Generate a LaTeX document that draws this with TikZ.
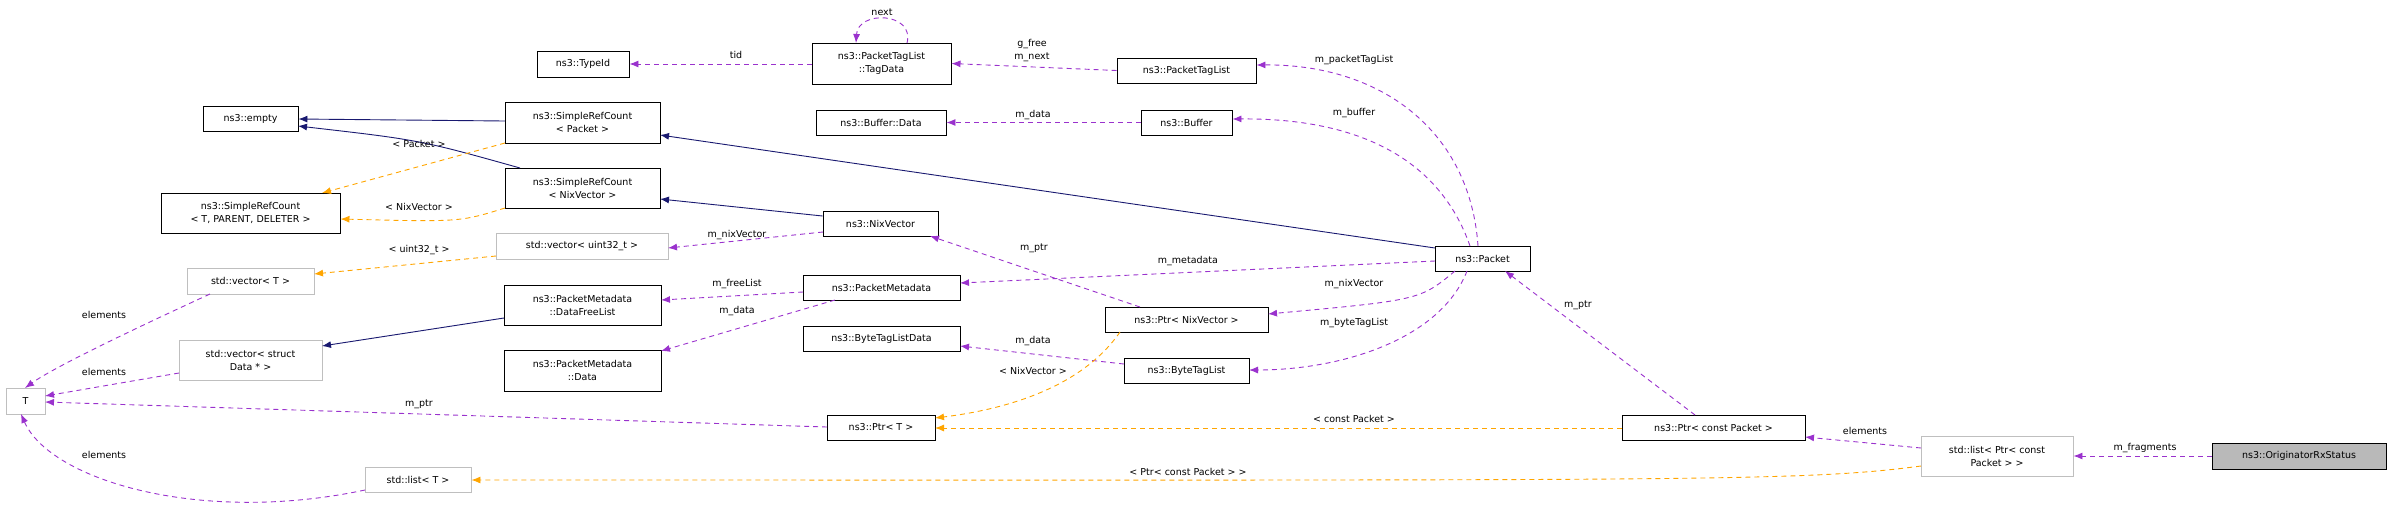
\documentclass[tikz,border=0pt]{standalone}
\usepackage{fontspec}
\setmainfont{DejaVu Sans}
\usetikzlibrary{arrows.meta}
\definecolor{pur}{HTML}{9A32CD}
\definecolor{org}{HTML}{FFA500}
\definecolor{nav}{HTML}{191970}
\definecolor{gb}{HTML}{BFBFBF}
\begin{document}
\begin{tikzpicture}[x=1pt,y=-1pt,
  every node/.style={font=\fontsize{9.5}{13}\selectfont},
  box/.style={draw=black,fill=white,line width=0.9pt,align=center,inner sep=0pt},
  gbox/.style={box,draw=gb},
  tip/.style={-{Latex[length=9pt,width=7pt]}},
  pe/.style={tip,draw=pur,dashed,line width=0.9pt,dash pattern=on 5pt off 4pt},
  oe/.style={tip,draw=org,dashed,line width=0.9pt,dash pattern=on 5pt off 4pt},
  ne/.style={tip,draw=nav,line width=0.9pt},
  lbl/.style={inner sep=0pt}]
\useasboundingbox (0,0) rectangle (2389,507);
\newcommand{\bx}[7]{\node[#1,minimum width=#4-#3,minimum height=#6-#5] (#2) at ({(#3+#4)/2},{(#5+#6)/2}) {#7};}
\bx{box}{typeid}{537}{629}{51}{77}{ns3::TypeId}
\bx{box}{empty}{203}{298}{106}{131}{ns3::empty}
\bx{box}{srcp}{505}{660}{102}{143}{ns3::SimpleRefCount\\< Packet >}
\bx{box}{srct}{161}{340}{193}{233}{ns3::SimpleRefCount\\< T, PARENT, DELETER >}
\bx{box}{srcn}{505}{660}{168}{208}{ns3::SimpleRefCount\\< NixVector >}
\bx{gbox}{vecu}{496}{668}{233}{259}{std::vector< uint32\_t >}
\bx{gbox}{vect}{187}{314}{268}{294}{std::vector< T >}
\bx{box}{dfl}{504}{661}{285}{325}{ns3::PacketMetadata\\::DataFreeList}
\bx{gbox}{vecs}{179}{322}{340}{380}{std::vector< struct\\Data * >}
\bx{box}{pmd}{504}{661}{350}{391}{ns3::PacketMetadata\\::Data}
\bx{gbox}{T}{6}{45}{388}{414}{T}
\bx{gbox}{listt}{365}{471}{467}{492}{std::list< T >}
\bx{box}{tagd}{812}{951}{43}{84}{ns3::PacketTagList\\::TagData}
\bx{box}{ptl}{1117}{1256}{58}{83}{ns3::PacketTagList}
\bx{box}{bufd}{816}{946}{110}{135}{ns3::Buffer::Data}
\bx{box}{buf}{1141}{1232}{110}{135}{ns3::Buffer}
\bx{box}{nixv}{823}{938}{211}{236}{ns3::NixVector}
\bx{box}{pkt}{1435}{1530}{246}{271}{ns3::Packet}
\bx{box}{pm}{803}{960}{275}{300}{ns3::PacketMetadata}
\bx{box}{ptrn}{1105}{1268}{307}{332}{ns3::Ptr< NixVector >}
\bx{box}{btld}{803}{960}{326}{351}{ns3::ByteTagListData}
\bx{box}{btl}{1124}{1249}{358}{383}{ns3::ByteTagList}
\bx{box}{ptrt}{827}{935}{415}{440}{ns3::Ptr< T >}
\bx{box}{ptrc}{1622}{1805}{415}{440}{ns3::Ptr< const Packet >}
\bx{gbox}{listp}{1921}{2073}{436}{476}{std::list< Ptr< const\\Packet > >}
\node[box,fill=gray!55,minimum width=174,minimum height=26] (orig) at (2299,456) {ns3::OriginatorRxStatus};
% edges
\draw[pe] (tagd.west|-0,64) -- (typeid.east|-0,64);
\draw[pe] (907,43) .. controls (915,12) and (858,10) .. (856,43);
\draw[pe] (ptl.west) -- (tagd.east);
\draw[pe] (1478,246) .. controls (1470,130) and (1380,64) .. (ptl.east|-0,65);
\draw[pe] (buf.west) -- (bufd.east);
\draw[pe] (1470,246) .. controls (1440,160) and (1360,118) .. (buf.east|-0,119);
\draw[ne] (1435,248) -- (660,135);
\draw[ne] (nixv.west|-0,216) -- (660,199);
\draw[ne] (505,121) -- (empty.east|-0,119);
\draw[ne] (520,168) .. controls (420,140) .. (298,126);
\draw[oe] (505,143) -- (322,193);
\draw[oe] (505,208) .. controls (460,222) .. (srct.east|-0,219);
\draw[pe] (823,232) -- (668,248);
\draw[oe] (496,256) -- (314,274);
\draw[pe] (210,294) .. controls (110,340) and (50,370) .. (25,388);
\draw[pe] (179,373) -- (45,396);
\draw[ne] (504,318) -- (322,346);
\draw[pe] (803,292) -- (661,300);
\draw[pe] (835,300) -- (661,351);
\draw[pe] (827,427) -- (45,402);
\draw[pe] (365,490) .. controls (200,525) and (50,480) .. (21,414);
\draw[oe] (1921,466) .. controls (1800,482) and (1700,480) .. (listt.east|-0,480);
\draw[pe] (1140,307) -- (930,236);
\draw[pe] (1435,261) -- (960,283);
\draw[pe] (1455,271) .. controls (1420,300) .. (1268,314);
\draw[pe] (1467,271) .. controls (1440,340) and (1340,370) .. (1249,370);
\draw[pe] (1124,364) -- (960,346);
\draw[oe] (1120,332) .. controls (1080,390) and (1000,410) .. (935,418);
\draw[oe] (1622,428) -- (935,428);
\draw[pe] (1695,415) -- (1505,271);
\draw[pe] (1921,448) -- (1805,437);
\draw[pe] (orig.west) -- (listp.east|-0,456);
% labels
\node[lbl] (l1) at (736,55) {tid};
\node[lbl] (l2) at (882,12) {next};
\node[lbl,align=center] (l3) at (1032,51) {g\_free\\m\_next};
\node[lbl] (l4) at (1354,60) {m\_packetTagList};
\node[lbl] (l5) at (1033,115) {m\_data};
\node[lbl] (l6) at (1354,113) {m\_buffer};
\node[lbl] (l7) at (419,144) {< Packet >};
\node[lbl] (l8) at (419,207) {< NixVector >};
\node[lbl] (l9) at (737,235) {m\_nixVector};
\node[lbl] (l10) at (419,250) {< uint32\_t >};
\node[lbl] (l11) at (104,315) {elements};
\node[lbl] (l12) at (104,372) {elements};
\node[lbl] (l13) at (737,284) {m\_freeList};
\node[lbl] (l14) at (737,311) {m\_data};
\node[lbl] (l15) at (419,404) {m\_ptr};
\node[lbl] (l16) at (104,455) {elements};
\node[lbl] (l17) at (1188,472) {< Ptr< const Packet > >};
\node[lbl] (l18) at (1034,248) {m\_ptr};
\node[lbl] (l19) at (1188,261) {m\_metadata};
\node[lbl] (l20) at (1354,284) {m\_nixVector};
\node[lbl] (l21) at (1354,323) {m\_byteTagList};
\node[lbl] (l22) at (1033,341) {m\_data};
\node[lbl] (l23) at (1033,371) {< NixVector >};
\node[lbl] (l24) at (1354,419) {< const Packet >};
\node[lbl] (l25) at (1578,305) {m\_ptr};
\node[lbl] (l26) at (1865,431) {elements};
\node[lbl] (l27) at (2145,448) {m\_fragments};
\end{tikzpicture}
\end{document}
